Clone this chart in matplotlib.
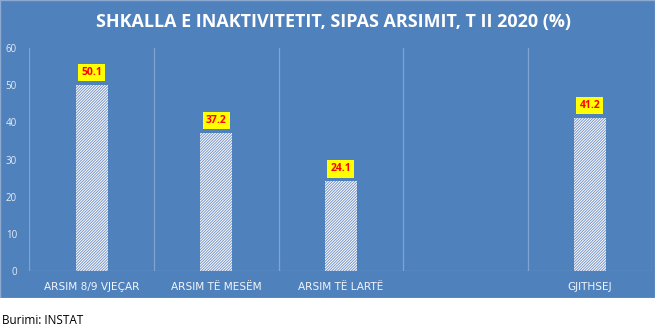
import matplotlib
matplotlib.use("Agg")
import matplotlib.pyplot as plt
from matplotlib.patches import Rectangle

categories = ["ARSIM 8/9 VJEÇAR", "ARSIM TË MESËM", "ARSIM TË LARTË", "", "GJITHSEJ"]
values = [50.1, 37.2, 24.1, None, 41.2]
yticks = [0, 10, 20, 30, 40, 50, 60]
title = "SHKALLA E INAKTIVITETIT, SIPAS ARSIMIT, T II 2020 (%)"
source = "Burimi: INSTAT"

panel_blue = "#4F81BD"
grid_blue = "#7FA3D3"
hatch_blue = "#7895C6"

plt.rcParams["hatch.linewidth"] = 0.7
plt.rcParams["font.family"] = ["Open Sans", "DejaVu Sans"]

fig = plt.figure(figsize=(6.62, 3.30), dpi=100)
fig.patch.set_facecolor("white")

# blue background panel
bg = fig.add_axes([0, 1 - 298 / 330, 655 / 662, 298 / 330])
bg.set_zorder(0)
bg.add_patch(Rectangle((0, 0), 1, 1, transform=bg.transAxes, facecolor=panel_blue,
                       edgecolor="#8EA9CF", linewidth=1.0))
bg.set_axis_off()

ax = fig.add_axes([29.5 / 662, 1 - 271 / 330, (652 - 29.5) / 662, (271 - 48) / 330])
ax.set_zorder(1)
ax.set_facecolor("none")

n = len(categories)
ax.set_xlim(0, n)
ax.set_ylim(0, 60)

xs = [i + 0.5 for i in range(n)]
for x, v in zip(xs, values):
    if v is None:
        continue
    ax.bar(x, v, width=0.26, color="white", edgecolor=hatch_blue,
           hatch="////////////", linewidth=0, zorder=3)
    ax.annotate(f"{v:.1f}", (x, v), xytext=(0, 9), textcoords="offset points",
                ha="center", va="center", color="#FF0000", fontsize=7.5,
                fontweight="bold",
                bbox=dict(boxstyle="square,pad=0.3", facecolor="#FFFF00",
                          edgecolor="none"), zorder=5)

# vertical category separators
for b in range(n + 1):
    ax.axvline(b, color=grid_blue, linewidth=0.9, zorder=1)
ax.axhline(0, color=grid_blue, linewidth=0.9, zorder=4)

for s in ax.spines.values():
    s.set_visible(False)

ax.set_yticks(yticks)
ax.set_yticklabels([str(t) for t in yticks])
ax.tick_params(axis="y", length=0, pad=9, colors="#E6ECF5", labelsize=7)
ax.set_xticks(xs)
ax.set_xticklabels(categories, family="DejaVu Sans")
ax.tick_params(axis="x", length=0, pad=8, colors="#F2F5FA", labelsize=7.6)

fig.text(334 / 662, 1 - 22 / 330, title, ha="center", va="center",
         color="white", fontsize=12.9, fontweight="bold")
fig.text(2 / 662, 1 - 320 / 330, source, ha="left", va="center",
         color="black", fontsize=8.5)

fig.savefig("out.png", dpi=100, facecolor="white")
